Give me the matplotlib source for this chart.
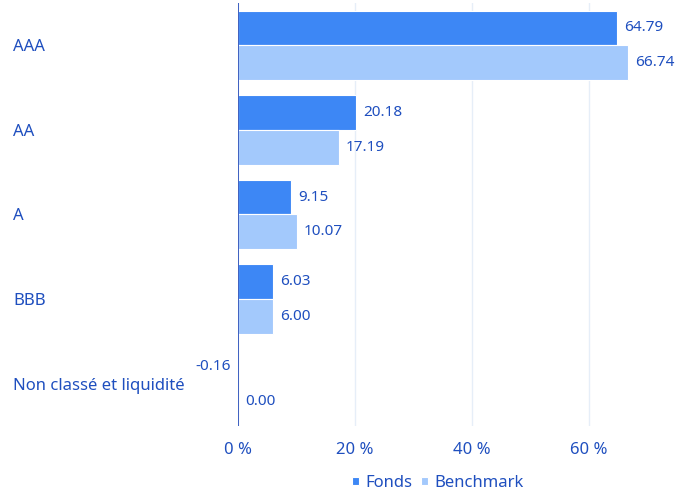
import matplotlib.pyplot as plt
import numpy as np

categories = ["AAA", "AA", "A", "BBB", "Non classé et liquidité"]
fonds = [64.79, 20.18, 9.15, 6.03, -0.16]
benchmark = [66.74, 17.19, 10.07, 6.00, 0.00]
xticks = [0, 20, 40, 60]

TEXT = "#1f4fbf"
FONDS_C = "#3d87f5"
BENCH_C = "#a3c9fc"

plt.rcParams['font.family'] = ['Noto Sans', 'DejaVu Sans']

fig = plt.figure(figsize=(6.91, 4.91), dpi=100)
ax = fig.add_axes([0.3444, 0.1324, 0.6093, 0.8616])

y = np.arange(len(categories))
h = 0.41
ax.barh(y - h / 2, fonds, height=h, color=FONDS_C, edgecolor="white", linewidth=0.8, label="Fonds")
ax.barh(y + h / 2, benchmark, height=h, color=BENCH_C, edgecolor="white", linewidth=0.8, label="Benchmark")

for yi, v in zip(y, fonds):
    if v >= 0:
        ax.annotate(f"{v:.2f}", (v, yi - h / 2), xytext=(5, 0), textcoords="offset points",
                    va="center", ha="left", color=TEXT, fontsize=11)
    else:
        ax.annotate(f"{v:.2f}", (0, yi - h / 2), xytext=(-5, 0), textcoords="offset points",
                    va="center", ha="right", color=TEXT, fontsize=11)
for yi, v in zip(y, benchmark):
    ax.annotate(f"{v:.2f}", (max(v, 0), yi + h / 2), xytext=(5, 0), textcoords="offset points",
                va="center", ha="left", color=TEXT, fontsize=11)

ax.set_xlim(0, 72)
ax.set_ylim(len(categories) - 0.5, -0.5)
ax.set_xticks(xticks)
ax.set_xticklabels([f"{t} %" for t in xticks], color=TEXT, fontsize=12)
ax.tick_params(axis="x", length=0, pad=11.5)
ax.set_yticks(y)
ax.set_yticklabels(categories, color=TEXT, fontsize=12, ha="left")
ax.tick_params(axis="y", length=0, pad=162)

ax.grid(axis="x", color="#e6eef8", linewidth=1)
ax.set_axisbelow(True)
for s in ax.spines.values():
    s.set_visible(False)
ax.axvline(0, color="#3d5fc0", linewidth=1.4, zorder=3)

fig.legend(loc="lower center", bbox_to_anchor=(0.634, -0.03), ncol=2, frameon=False,
           fontsize=12, labelcolor=TEXT, handlelength=0.4, handleheight=0.4,
           handletextpad=0.4, columnspacing=0.5)

fig.savefig("out.png", dpi=100)
